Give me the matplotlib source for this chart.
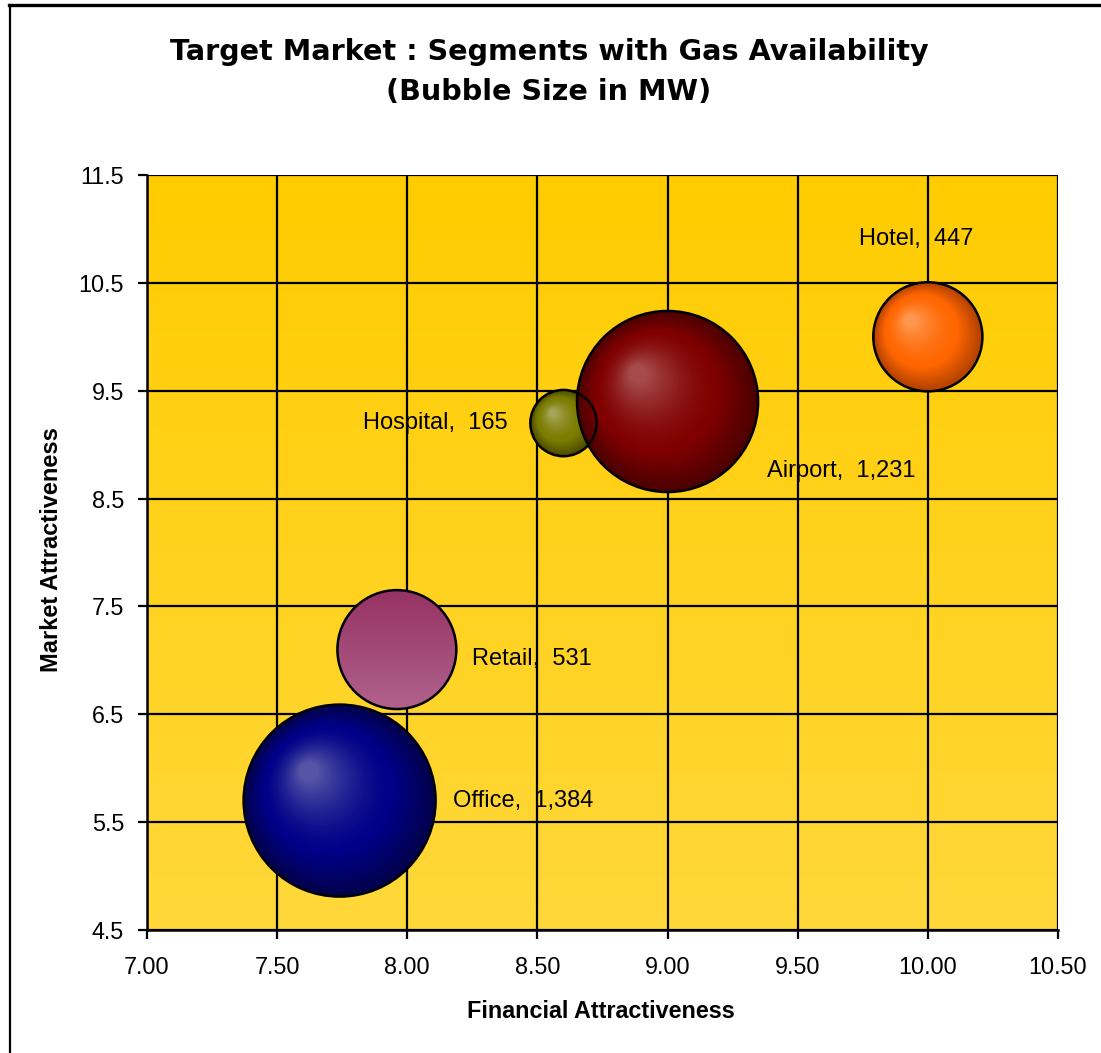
import numpy as np
import matplotlib
matplotlib.use("Agg")
import matplotlib.pyplot as plt
from matplotlib.patches import Ellipse
from matplotlib.colors import to_rgb, LinearSegmentedColormap
from matplotlib.lines import Line2D

# ---- data ----
segments = ["Office", "Retail", "Hospital", "Airport", "Hotel"]
financial = [7.74, 7.96, 8.60, 9.00, 10.00]
market = [5.70, 7.10, 9.20, 9.40, 10.00]
mw = [1384, 531, 165, 1231, 447]
x_ticks = [7.00, 7.50, 8.00, 8.50, 9.00, 9.50, 10.00, 10.50]
y_ticks = [4.5, 5.5, 6.5, 7.5, 8.5, 9.5, 10.5, 11.5]

# styles
edge_cols = ["#00004a", None, "#4a4a00", "#4a0000", "#b04000"]
base_cols = ["#000088", None, "#7c7c00", "#800000", "#ff6600"]
hi_cols = ["#5a5aa8", None, "#a8a860", "#a85050", "#ff9a55"]
label_off = [(113, 0, "left"), (75, -9, "left"), (-56, 0, "right"),
             (99, -69, "left"), (-12, 98, "center")]

W, H = 1101, 1053
dpi = 100
fig = plt.figure(figsize=(W / dpi, H / dpi), dpi=dpi)
L, R, T, B = 147, 1058, 175, 930
ax = fig.add_axes([L / W, (H - B) / H, (R - L) / W, (B - T) / H])

# background gradient (darker at top)
grad = np.linspace(0, 1, 256).reshape(-1, 1)
bg = LinearSegmentedColormap.from_list("bg", ["#ffd83a", "#ffcc00"])
ax.imshow(grad, extent=[7.0, 10.5, 4.5, 11.5], cmap=bg, aspect="auto", zorder=0,
          origin="lower")
ax.set_xlim(7.0, 10.5)
ax.set_ylim(4.5, 11.5)

ax.set_xticks(x_ticks)
ax.set_yticks(y_ticks)
ax.set_xticklabels([f"{v:.2f}" for v in x_ticks])
ax.set_yticklabels([f"{v:.1f}" for v in y_ticks])
ax.grid(True, color="black", linewidth=1.6, zorder=1)
ax.set_axisbelow(False)
for s in ax.spines.values():
    s.set_color("black")
    s.set_linewidth(1.8)
    s.set_zorder(2)
ax.spines["top"].set_visible(False)
ax.spines["right"].set_visible(False)
ax.tick_params(direction="out", length=6.5, width=1.6, colors="black",
               labelsize=16.8, pad=10)
for lab in ax.get_xticklabels() + ax.get_yticklabels():
    lab.set_fontfamily("Liberation Sans")
ax.tick_params(axis="x", pad=12.5)

px_x = (R - L) / 3.5
px_y = (B - T) / 7.0
k = 96 / np.sqrt(1384)


def mix(c1, c2, t):
    a = np.array(to_rgb(c1)); b = np.array(to_rgb(c2))
    return tuple(a + (b - a) * t)


for i, (x, y, v) in enumerate(zip(financial, market, mw)):
    r = k * np.sqrt(v)
    if segments[i] == "Retail":
        e = Ellipse((x, y), 2 * r / px_x, 2 * r / px_y, facecolor="none",
                    edgecolor="black", linewidth=1.8, zorder=4)
        ax.add_patch(e)
        cm = LinearSegmentedColormap.from_list("rt", ["#b0628c", "#963264"])
        im = ax.imshow(grad, extent=[x - r / px_x, x + r / px_x, y - r / px_y, y + r / px_y],
                       cmap=cm, aspect="auto", zorder=3, origin="lower")
        clip = Ellipse((x, y), 2 * r / px_x, 2 * r / px_y, transform=ax.transData)
        im.set_clip_path(clip)
        continue
    n = 40
    hx, hy = -0.33 * r, 0.31 * r
    for j in range(n):
        t = j / n
        rr = r * (1 - t) + 0.08 * r * t
        cx = x + hx * t / px_x
        cy = y + hy * t / px_y
        if t < 0.35:
            col = mix(edge_cols[i], base_cols[i], t / 0.35)
        else:
            col = mix(base_cols[i], hi_cols[i], ((t - 0.35) / 0.65) ** 1.6)
        ax.add_patch(Ellipse((cx, cy), 2 * rr / px_x, 2 * rr / px_y,
                             facecolor=col, edgecolor="none", zorder=3))
    ax.add_patch(Ellipse((x, y), 2 * r / px_x, 2 * r / px_y, facecolor="none",
                         edgecolor="black", linewidth=1.8, zorder=4))

for i, (x, y, v) in enumerate(zip(financial, market, mw)):
    dx, dy, ha = label_off[i]
    ax.annotate(f"{segments[i]},  {v:,}", (x, y), xytext=(dx, dy),
                textcoords="offset pixels", ha=ha, va="center", fontsize=17,
                family="Liberation Sans", color="black", zorder=5)

fig.text(601 / W, 1 - 1012 / H, "Financial Attractiveness", ha="center",
         va="center", fontsize=16.8, fontweight="bold", family="Liberation Sans")
fig.text(52 / W, 1 - 550 / H, "Market Attractiveness", ha="center",
         va="center", rotation=90, fontsize=17, fontweight="bold",
         family="Liberation Sans")

fig.text(549 / W, 1 - 52 / H, "Target Market : Segments with Gas Availability",
         ha="center", va="center", fontsize=20.6, fontweight="bold",
         family="DejaVu Sans")
fig.text(549 / W, 1 - 92 / H, "(Bubble Size in MW)",
         ha="center", va="center", fontsize=20.6, fontweight="bold",
         family="DejaVu Sans")

# figure frame lines (top and left)
fig.add_artist(Line2D([9 / W, 1], [1 - 4.5 / H, 1 - 4.5 / H], color="black",
                      linewidth=2.4, transform=fig.transFigure))
fig.add_artist(Line2D([9.5 / W, 9.5 / W], [0, 1 - 4.5 / H], color="black",
                      linewidth=1.6, transform=fig.transFigure))

fig.savefig("out.png", dpi=dpi)
